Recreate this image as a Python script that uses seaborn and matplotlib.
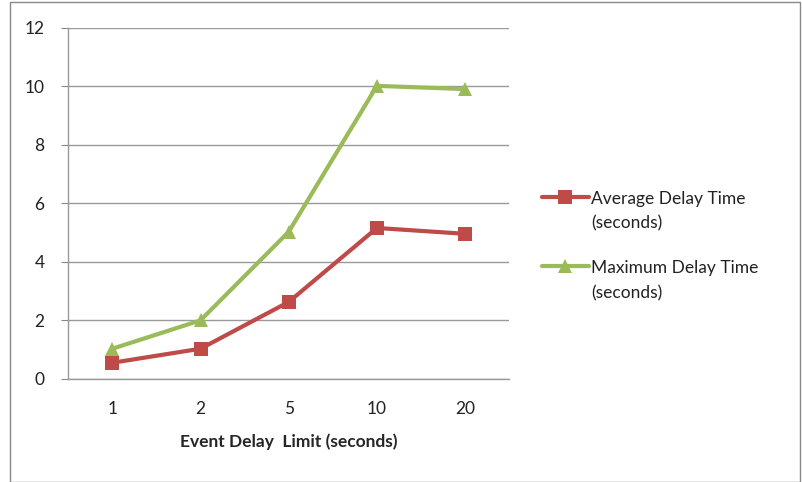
import numpy as np
import pandas as pd
import seaborn as sns
import matplotlib.pyplot as plt
from matplotlib.patches import Rectangle

# values
limits = ['1', '2', '5', '10', '20']
avg_delay = [0.55, 1.03, 2.63, 5.16, 4.96]
max_delay = [1.03, 2.0, 5.03, 10.02, 9.91]
series_names = ['Average Delay Time\n(seconds)', 'Maximum Delay Time\n(seconds)']

df = pd.DataFrame({
    'limit': limits * 2,
    'delay': avg_delay + max_delay,
    'series': [series_names[0]] * 5 + [series_names[1]] * 5,
})

sns.set_style('white')
plt.rcParams['font.family'] = ['Lato', 'DejaVu Sans']

fig = plt.figure(figsize=(8.02, 4.82), dpi=100)
ax = fig.add_axes([0.085, 0.214, 0.55, 0.728])

palette = {series_names[0]: '#BE4B48', series_names[1]: '#9BBB59'}
sns.lineplot(data=df, x='limit', y='delay', hue='series', style='series',
             markers={series_names[0]: 's', series_names[1]: '^'},
             dashes=False, palette=palette, linewidth=3, markersize=10,
             markeredgewidth=0, sort=False, ax=ax)

ax.set_ylim(0, 12)
ax.set_yticks(range(0, 13, 2))
ax.set_xlim(-0.5, 4.5)
ax.set_xticks(range(5))
ax.set_xticklabels(limits)
ax.set_xticks(np.arange(-0.5, 5, 1), minor=True)
ax.tick_params(axis='x', which='major', length=0, pad=16, labelsize=12.5, colors='#222222')
ax.tick_params(axis='x', which='minor', length=5, color='#888888', direction='out')
ax.tick_params(axis='y', length=5, color='#888888', direction='out', labelsize=12.5,
               colors='#222222', left=True, pad=12)
ax.yaxis.grid(True, color='#999999', linewidth=1)
for s in ['top', 'right']:
    ax.spines[s].set_visible(False)
for s in ['left', 'bottom']:
    ax.spines[s].set_color('#999999')
    ax.spines[s].set_linewidth(1)

ax.set_xlabel('Event Delay  Limit (seconds)', fontsize=12.5, fontweight='bold', labelpad=12)
ax.set_ylabel('')

handles, labels = ax.get_legend_handles_labels()
leg = ax.legend(handles, labels, title=None, frameon=False, fontsize=12.5, loc='center left',
                bbox_to_anchor=(0.667, 0.49), bbox_transform=fig.transFigure,
                handlelength=2.7, labelspacing=1.6, handletextpad=0.15, borderaxespad=0)
for t in leg.get_texts():
    t.set_linespacing(1.7)
    t.set_color('#222222')
# put the marker level with the first line of each label, like the original
for col in leg._legend_handle_box.get_children():
    for row in col.get_children():
        row.align = 'top'

fig.patches.append(Rectangle((0.013, 0.0), 0.985, 0.995, transform=fig.transFigure,
                             fill=False, edgecolor='#888888', linewidth=1))

fig.savefig('out.png', dpi=100)
